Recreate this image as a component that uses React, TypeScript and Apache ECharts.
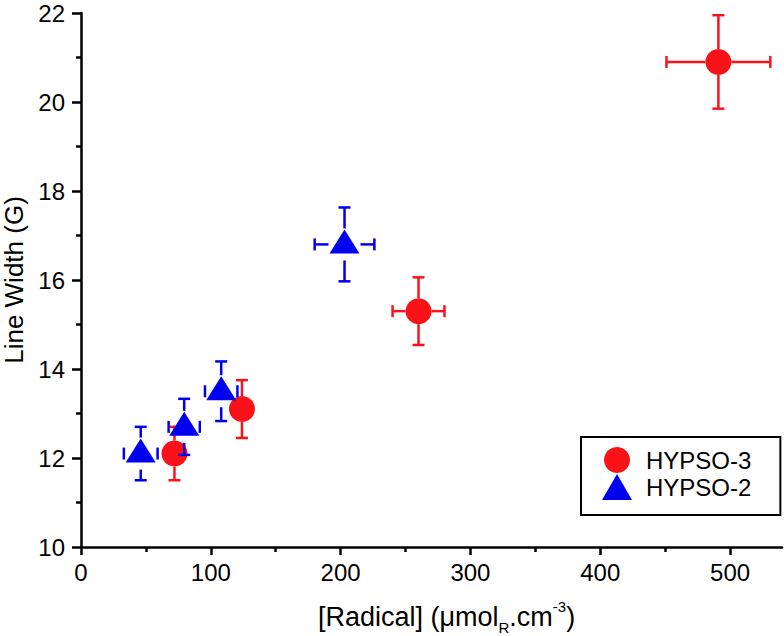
import React, { useEffect, useRef } from "react";
import * as echarts from "echarts";

// HYPSO-3 (red circles)
const h3X = [72, 124, 260, 491];
const h3Y = [12.1, 13.1, 15.3, 20.9];
const h3Xerr = [6, 6, 20, 40];
const h3Yerr = [0.6, 0.65, 0.76, 1.05];

// HYPSO-2 (blue triangles)
const h2X = [46, 79.5, 108, 203];
const h2Y = [12.1, 12.7, 13.5, 16.8];
const h2Xerr = [13, 12, 12.5, 23];
const h2Yerr = [0.6, 0.63, 0.67, 0.83];

const xMajorTicks = [0, 100, 200, 300, 400, 500];
const xMinorTicks = [50, 150, 250, 350, 450];
const seriesNames = ["HYPSO-3", "HYPSO-2"];

const RED = "#fb1219";
const BLUE = "#0000f0";
const FONT = "'Liberation Sans', Arial, sans-serif";

function errorRender(r: number, color: string) {
  return (params: any, api: any) => {
    const x = api.value(0);
    const y = api.value(1);
    const ex = api.value(2);
    const ey = api.value(3);
    const c = api.coord([x, y]);
    const top = api.coord([x, y + ey]);
    const bot = api.coord([x, y - ey]);
    const lft = api.coord([x - ex, y]);
    const rgt = api.coord([x + ex, y]);
    const cap = 6;
    const children: any[] = [];
    const seg = (x1: number, y1: number, x2: number, y2: number) =>
      children.push({
        type: "line",
        shape: { x1, y1, x2, y2 },
        style: { stroke: color, lineWidth: 2.5 },
      });
    if (c[1] - top[1] > r) seg(c[0], c[1] - r, c[0], top[1]);
    seg(c[0] - cap, top[1], c[0] + cap, top[1]);
    if (bot[1] - c[1] > r) seg(c[0], c[1] + r, c[0], bot[1]);
    seg(c[0] - cap, bot[1], c[0] + cap, bot[1]);
    if (c[0] - lft[0] > r) seg(c[0] - r, c[1], lft[0], c[1]);
    seg(lft[0], c[1] - cap, lft[0], c[1] + cap);
    if (rgt[0] - c[0] > r) seg(c[0] + r, c[1], rgt[0], c[1]);
    seg(rgt[0], c[1] - cap, rgt[0], c[1] + cap);
    return { type: "group", children };
  };
}

export default function App() {
  const ref = useRef<HTMLDivElement>(null);
  useEffect(() => {
    if (!ref.current) return;
    const chart = echarts.init(ref.current, undefined, { renderer: "svg" });
    const h3Err = h3X.map((x, i) => [x, h3Y[i], h3Xerr[i], h3Yerr[i]]);
    const h2Err = h2X.map((x, i) => [x, h2Y[i], h2Xerr[i], h2Yerr[i]]);
    const h3Pts = h3X.map((x, i) => [x, h3Y[i]]);
    const h2Pts = h2X.map((x, i) => [x, h2Y[i]]);
    chart.setOption({
      animation: false,
      backgroundColor: "#fff",
      grid: { left: 81, right: 2, top: 13, bottom: 89, containLabel: false, outerBoundsMode: "none" },
      legend: {
        left: 581,
        top: 437,
        orient: "vertical",
        padding: [10, 29, 15, 21],
        itemWidth: 30,
        itemHeight: 26,
        itemGap: 1,
        borderColor: "#000",
        borderWidth: 2,
        borderRadius: 0,
        backgroundColor: "#fff",
        textStyle: { fontSize: 24, fontFamily: FONT, color: "#000", padding: [0, 0, 0, 9] },
        data: [
          { name: seriesNames[0], icon: "circle" },
          { name: seriesNames[1], icon: "path://M15,0L30,26L0,26Z" },
        ],
      },
      xAxis: [
        {
          type: "value",
          min: 0,
          max: 540,
          interval: 100,
          splitLine: { show: false },
          axisLine: { lineStyle: { color: "#000", width: 2.5 } },
          axisTick: {
            show: true,
            inside: false,
            length: 8,
            customValues: xMajorTicks,
            lineStyle: { color: "#000", width: 2.5 },
          },
          axisLabel: {
            customValues: xMajorTicks,
            fontSize: 24,
            fontFamily: FONT,
            color: "#000",
            margin: 13,
          },
          name: "{a|[Radical] (μmol}{sub|R}{a|.cm}{sup|-3}{a|)}",
          nameLocation: "middle",
          nameGap: 52,
          nameTextStyle: {
            padding: [0, 0, 0, 30],
            rich: {
              a: { fontSize: 27, fontFamily: FONT, color: "#000", lineHeight: 36, verticalAlign: "middle" },
              sub: { fontSize: 15, fontFamily: FONT, color: "#000", lineHeight: 15, verticalAlign: "bottom" },
              sup: { fontSize: 15, fontFamily: FONT, color: "#000", lineHeight: 15, verticalAlign: "top" },
            },
          },
        },
        {
          type: "value",
          min: 0,
          max: 540,
          interval: 50,
          position: "bottom",
          splitLine: { show: false },
          axisLine: { show: false },
          axisLabel: { show: false },
          axisTick: {
            show: true,
            inside: false,
            length: 5,
            customValues: xMinorTicks,
            lineStyle: { color: "#000", width: 2.5 },
          },
        },
      ],
      yAxis: {
        type: "value",
        min: 10,
        max: 22,
        interval: 2,
        splitLine: { show: false },
        axisLine: { show: true, lineStyle: { color: "#000", width: 2.5 } },
        axisTick: { show: true, inside: false, length: 9, lineStyle: { color: "#000", width: 2.5 } },
        minorTick: { show: true, splitNumber: 2, length: 5, lineStyle: { color: "#000", width: 2.5 } },
        axisLabel: { fontSize: 24, fontFamily: FONT, color: "#000", margin: 16 },
        name: "Line Width (G)",
        nameLocation: "middle",
        nameGap: 54,
        nameTextStyle: { fontSize: 26, fontFamily: FONT, color: "#000" },
      },
      series: [
        {
          name: "HYPSO-3 error",
          type: "custom",
          renderItem: errorRender(13, RED),
          data: h3Err,
          encode: { x: 0, y: 1 },
          clip: false,
          z: 1,
          silent: true,
        },
        {
          name: seriesNames[0],
          type: "scatter",
          data: h3Pts,
          symbol: "circle",
          symbolSize: 26,
          itemStyle: { color: RED, opacity: 1 },
          z: 2,
        },
        {
          name: "HYPSO-2 error",
          type: "custom",
          renderItem: errorRender(16, BLUE),
          data: h2Err,
          encode: { x: 0, y: 1 },
          clip: false,
          z: 3,
          silent: true,
        },
        {
          name: seriesNames[1],
          type: "scatter",
          data: h2Pts,
          symbol: "triangle",
          symbolSize: [30, 24],
          symbolOffset: [0, -3],
          itemStyle: { color: BLUE, opacity: 1 },
          z: 4,
        },
      ],
    });
    return () => chart.dispose();
  }, []);
  return (
    <div
      ref={ref}
      style={{ position: "fixed", left: 0, top: 0, width: 784, height: 636, background: "#fff" }}
    />
  );
}
